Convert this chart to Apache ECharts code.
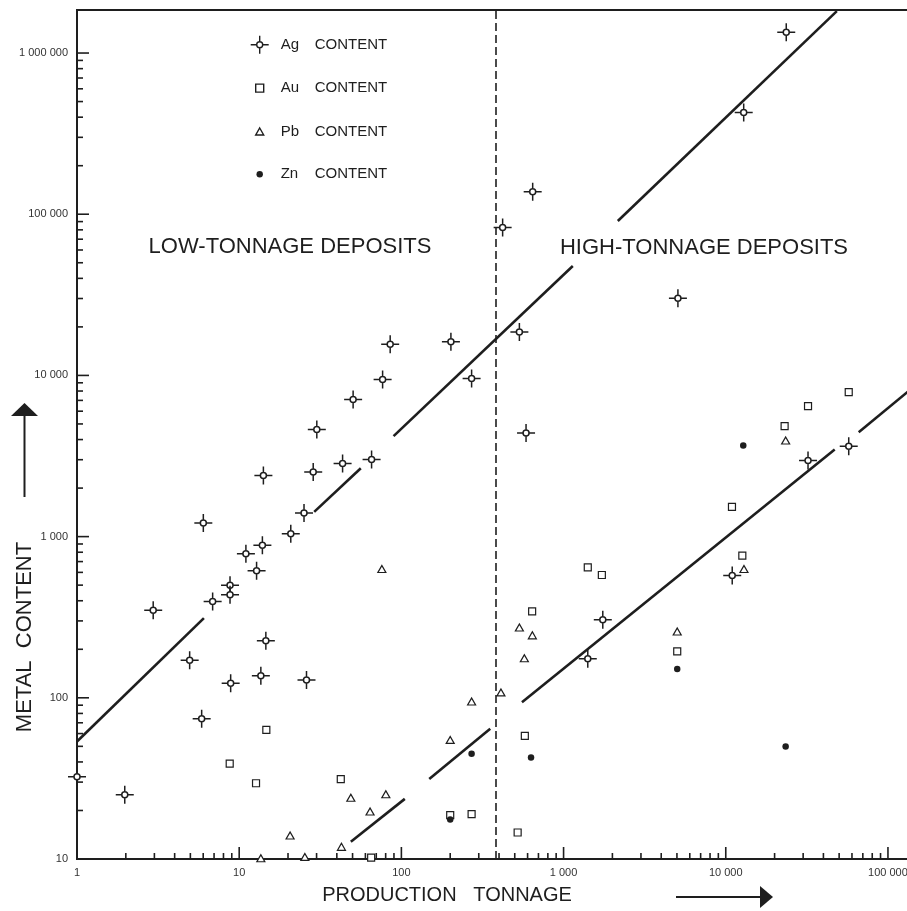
<!DOCTYPE html>
<html>
<head>
<meta charset="utf-8">
<title>Metal content vs production tonnage</title>
<script src="https://cdn.jsdelivr.net/npm/echarts@6/dist/echarts.min.js"></script>
<style>
    html, body { margin: 0; padding: 0; background: #fff; }
    #chart { width: 907px; height: 911px; }
</style>
</head>
<body>
<div id="chart"></div>
<script>
// production tonnage (x) / metal content (y)
const agData = [
    [23600, 1345000], [12900, 428000], [645, 138000], [421, 82600], [5070, 30100],
    [534, 18600], [271, 9580], [587, 4400], [202, 16200], [85.3, 15600],
    [76.6, 9440], [50.4, 7100], [30.1, 4620], [43.4, 2840], [65.5, 3010],
    [28.6, 2520], [14.1, 2390], [25.1, 1400], [20.8, 1040], [6.01, 1215],
    [13.9, 883], [11.0, 784], [12.8, 615], [8.78, 499], [8.78, 436],
    [6.86, 396], [2.95, 349], [4.95, 171], [14.6, 226], [13.6, 137],
    [8.86, 123], [26.0, 129], [5.87, 74.1], [1.0, 32.4], [1.97, 25.0],
    [1745, 305], [1410, 175], [10960, 573], [32150, 2965], [57300, 3640]
]
const auData = [
    [57300, 7870], [32150, 6440], [23060, 4840], [10920, 1530], [12650, 762],
    [1410, 645], [1722, 578], [640, 344], [5020, 194], [577, 58.1],
    [271, 19.0], [200, 18.7], [521, 14.6], [14.7, 63.2], [8.74, 39.1],
    [12.7, 29.5], [42.3, 31.3], [65.1, 10.2]
]
const pbData = [
    [200, 54.8], [80.2, 25.2], [48.8, 24.0], [64.1, 19.7], [20.6, 14.0],
    [42.7, 11.9], [25.4, 10.3], [13.6, 10.1], [75.8, 630], [271, 94.8],
    [411, 108], [534, 273], [642, 244], [573, 176], [5020, 258],
    [23400, 3950], [12950, 630]
]
const znData = [
    [12820, 3670], [5020, 151], [23400, 49.9], [630, 42.6], [271, 44.9], [200, 17.6]
]

// fitted lines, drawn in broken segments as in the original
const upperLine = [
    [[1, 53.6], [6.06, 312]],
    [[29.0, 1423], [56.2, 2655]],
    [[89.5, 4200], [1140, 47750]],
    [[2160, 90800], [48400, 1820000]]
]
const lowerLine = [
    [[48.8, 12.8], [105, 23.6]],
    [[148.5, 31.4], [353, 64.2]],
    [[554, 94.0], [46950, 3470]],
    [[66000, 4445], [134000, 8000]]
]
const tonnageSplit = 380

const xTickValues = [1, 10, 100, 1000, 10000, 100000]
const xTickLabels = ['1', '10', '100', '1 000', '10 000', '100 000']
const yTickValues = [10, 100, 1000, 10000, 100000, 1000000]
const yTickLabels = ['10', '100', '1 000', '10 000', '100 000', '1 000 000']
const minorSteps = [2, 3, 4, 5, 6, 7, 8, 9]

const xMin = 1, xMax = 138700
const yMin = 10, yMax = 1849000

const INK = '#1e1e1e'
const FONT = '"Liberation Sans", Arial, sans-serif'

// Ag marker: open ring with four arms
const agPath = 'M-9,0 L-3,0 M3,0 L9,0 M0,-9 L0,-3 M0,3 L0,9 M3,0 A3,3 0 1 1 -3,0 A3,3 0 1 1 3,0 Z'
// legend icons share one padded box so text lines up
const pad = 'M-9,-9 M16,9 '
const legendIcons = {
    Ag: 'path://' + pad + agPath,
    Au: 'path://' + pad + 'M-4,-4 L4,-4 L4,4 L-4,4 Z',
    Pb: 'path://' + pad + 'M0,-3.5 L4,3.5 L-4,3.5 Z',
    Zn: 'path://' + pad + 'M3.2,0 A3.2,3.2 0 1 1 -3.2,0 A3.2,3.2 0 1 1 3.2,0 Z'
}

const labelFor = (values, labels) => (v) => {
    const i = values.findIndex(t => Math.abs(Math.log10(t) - Math.log10(v)) < 1e-6)
    return i < 0 ? '' : labels[i]
}

// tick marks inside the frame (major + 2..9 minor), placed through the axes
const tickItems = (decades, limit) => {
    const out = []
    decades.forEach(d => {
        out.push([d, 12])
        minorSteps.forEach(m => { if (d * m <= limit) out.push([d * m, 6]) })
    })
    return out
}
const xTicks = tickItems(xTickValues, xMax).map(t => [t[0], yMin, t[1]])
const yTicks = tickItems(yTickValues, yMax).map(t => [xMin, t[0], t[1]])

const segSeries = (segs, withSplit) => segs.map((seg, i) => {
    const s = {
        type: 'line',
        data: seg,
        symbol: 'none',
        silent: true,
        z: 3,
        lineStyle: { color: INK, width: 2.6 }
    }
    if (withSplit && i === 0) {
        s.markLine = {
            symbol: 'none',
            silent: true,
            label: { show: false },
            lineStyle: { color: INK, width: 1.6, type: [8, 4] },
            data: [{ xAxis: tonnageSplit }]
        }
    }
    return s
})

const myChart = echarts.init(document.getElementById('chart'))
myChart.setOption({
    animation: false,
    backgroundColor: '#fff',
    grid: {
        left: 77,
        width: 834,   // runs past the right edge, the original is cropped there
        top: 10,
        bottom: 52,
        outerBoundsMode: 'none',
        show: true,
        borderColor: INK,
        borderWidth: 2
    },
    legend: {
        orient: 'vertical',
        left: 250,
        top: 35,
        padding: 0,
        itemGap: 24,
        itemWidth: 25,
        itemHeight: 18,
        selectedMode: false,
        itemStyle: { borderWidth: 1.4 },
        data: ['Ag', 'Au', 'Pb', 'Zn'].map(n => ({ name: n, icon: legendIcons[n] })),
        formatter: name => `{m|${name}}{c|CONTENT}`,
        textStyle: {
            color: INK,
            fontFamily: FONT,
            fontSize: 15,
            rich: {
                m: { width: 34, fontSize: 15, lineHeight: 18, fontFamily: FONT, color: INK },
                c: { fontSize: 15, lineHeight: 18, fontFamily: FONT, color: INK }
            }
        }
    },
    xAxis: {
        type: 'log',
        logBase: 10,
        min: xMin,
        max: xMax,
        axisLine: { show: true, lineStyle: { color: INK, width: 2 } },
        axisTick: { show: false },
        splitLine: { show: false },
        axisLabel: {
            margin: 8,
            color: '#333',
            fontSize: 11,
            fontFamily: FONT,
            formatter: labelFor(xTickValues, xTickLabels)
        }
    },
    yAxis: {
        type: 'log',
        logBase: 10,
        min: yMin,
        max: yMax,
        axisLine: { show: true, lineStyle: { color: INK, width: 2 } },
        axisTick: { show: false },
        splitLine: { show: false },
        axisLabel: {
            margin: 9,
            color: '#333',
            fontSize: 11,
            fontFamily: FONT,
            formatter: labelFor(yTickValues, yTickLabels)
        }
    },
    graphic: [
        {
            type: 'text', x: 290, y: 247,
            style: { text: 'LOW-TONNAGE DEPOSITS', font: '22px ' + FONT, fill: INK, align: 'center', verticalAlign: 'middle' }
        },
        {
            type: 'text', x: 704, y: 248,
            style: { text: 'HIGH-TONNAGE DEPOSITS', font: '22px ' + FONT, fill: INK, align: 'center', verticalAlign: 'middle' }
        },
        {
            type: 'text', x: 447, y: 895,
            style: { text: 'PRODUCTION   TONNAGE', font: '20px ' + FONT, fill: INK, align: 'center', verticalAlign: 'middle' }
        },
        {
            type: 'text', x: 25, y: 637, rotation: Math.PI / 2,
            style: { text: 'METAL  CONTENT', font: '22px ' + FONT, fill: INK, align: 'center', verticalAlign: 'middle' }
        },
        // up arrow beside the y title
        { type: 'line', shape: { x1: 24.5, y1: 497, x2: 24.5, y2: 414 }, style: { stroke: INK, lineWidth: 2 } },
        { type: 'polygon', shape: { points: [[11, 416], [38, 416], [24.5, 403]] }, style: { fill: INK } },
        // right arrow after the x title
        { type: 'line', shape: { x1: 676, y1: 897, x2: 762, y2: 897 }, style: { stroke: INK, lineWidth: 2 } },
        { type: 'polygon', shape: { points: [[760, 886], [760, 908], [773, 897]] }, style: { fill: INK } }
    ],
    series: [
        ...segSeries(upperLine, true),
        ...segSeries(lowerLine, false),
        {
            name: 'xTicks',
            type: 'custom',
            clip: false,
            silent: true,
            data: xTicks,
            renderItem: (params, api) => {
                const p = api.coord([api.value(0), api.value(1)])
                return {
                    type: 'line',
                    shape: { x1: p[0], y1: p[1], x2: p[0], y2: p[1] - api.value(2) },
                    style: { stroke: INK, lineWidth: 1.6 }
                }
            }
        },
        {
            name: 'yTicks',
            type: 'custom',
            clip: false,
            silent: true,
            data: yTicks,
            renderItem: (params, api) => {
                const p = api.coord([api.value(0), api.value(1)])
                return {
                    type: 'line',
                    shape: { x1: p[0], y1: p[1], x2: p[0] + api.value(2), y2: p[1] },
                    style: { stroke: INK, lineWidth: 1.6 }
                }
            }
        },
        {
            name: 'Ag',
            type: 'scatter',
            data: agData,
            symbol: 'path://' + agPath,
            symbolSize: 18,
            clip: false,
            z: 5,
            itemStyle: { color: '#fff', borderColor: INK, borderWidth: 1.5, opacity: 1 }
        },
        {
            name: 'Au',
            type: 'scatter',
            data: auData,
            symbol: 'rect',
            symbolSize: 7,
            clip: false,
            z: 5,
            itemStyle: { color: '#fff', borderColor: INK, borderWidth: 1.2, opacity: 1 }
        },
        {
            name: 'Pb',
            type: 'scatter',
            data: pbData,
            symbol: 'triangle',
            symbolSize: [8, 7],
            clip: false,
            z: 5,
            itemStyle: { color: '#fff', borderColor: INK, borderWidth: 1.2, opacity: 1 }
        },
        {
            name: 'Zn',
            type: 'scatter',
            data: znData,
            symbol: 'circle',
            symbolSize: 6.5,
            clip: false,
            z: 6,
            itemStyle: { color: INK, opacity: 1 }
        }
    ]
})
</script>
</body>
</html>
